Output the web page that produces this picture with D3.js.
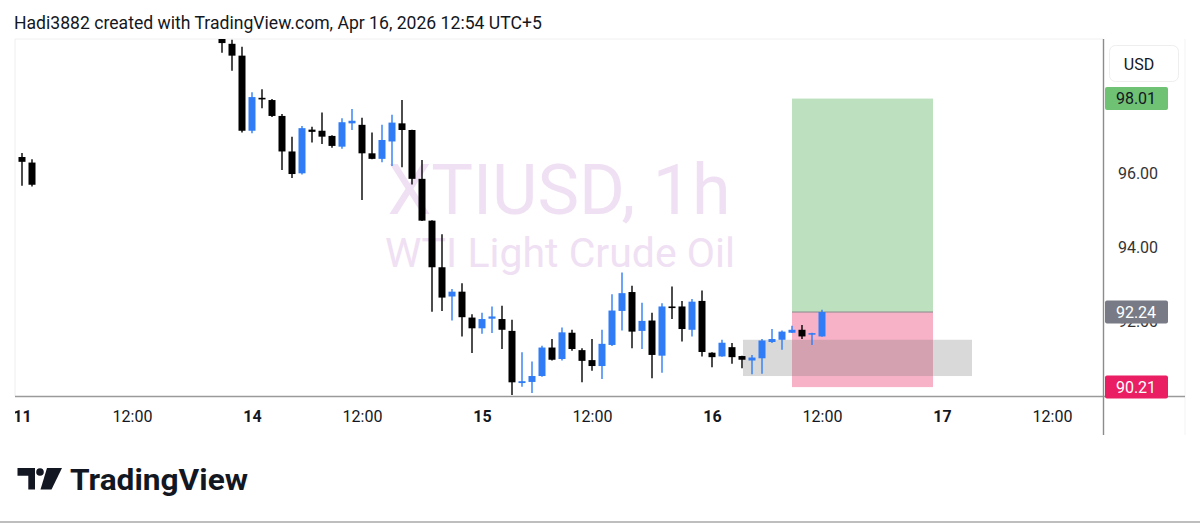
<!DOCTYPE html>
<html>
<head>
<meta charset="utf-8">
<script src="https://cdn.jsdelivr.net/npm/d3@7"></script>
<style>
  html, body { margin: 0; padding: 0; background: #ffffff; }
  svg { display: block; }
  text { font-family: Roboto, "Noto Sans", sans-serif; }
</style>
</head>
<body>
<svg id="chart" width="1200" height="524"></svg>
<script>
// ---------- DATA ----------
const slots  = [0, 1, 20, 21, 22, 23, 24, 25, 26, 27, 28, 29, 30, 31, 32, 33, 34, 35, 36, 37, 38, 39, 40,
                41, 42, 43, 44, 45, 46, 47, 48, 49, 50, 51, 52, 53, 54, 55, 56, 57, 58, 59, 60,
                61, 62, 63, 64, 65, 66, 67, 68, 69, 70, 71, 72, 73, 74, 75, 76, 77, 78, 79, 80];
const opens  = [96.43, 96.28, 99.62, 99.49, 99.17, 97.14, 98.03, 97.97, 97.54, 96.58, 95.99, 97.17, 97.14, 97.00, 96.71, 97.34, 97.30, 96.53, 96.38, 96.85, 97.34, 97.16, 95.84,
                94.71, 93.45, 92.66, 92.79, 92.09, 91.80, 92.06, 92.05, 91.73, 90.32, 90.35, 90.51, 91.28, 90.97, 91.68, 91.21, 90.94, 90.78, 91.35, 92.27,
                92.78, 91.73, 92.01, 91.06, 92.39, 92.39, 91.76, 92.54, 91.14, 91.04, 91.29, 91.05, 90.93, 90.99, 91.43, 91.49, 91.68, 91.76, 91.63, 91.58];
const highs  = [96.54, 96.37, 99.62, 99.60, 99.41, 98.18, 98.26, 98.00, 97.59, 96.98, 97.27, 97.25, 97.63, 97.02, 97.48, 97.73, 97.49, 97.09, 97.30, 97.57, 97.97, 97.17, 96.35,
                94.72, 94.34, 92.86, 93.02, 92.18, 92.22, 92.39, 92.41, 92.03, 91.15, 90.90, 91.33, 91.51, 91.82, 91.76, 91.26, 91.51, 91.76, 92.72, 93.31,
                92.95, 92.49, 92.22, 92.48, 92.93, 92.54, 92.59, 92.82, 91.15, 91.49, 91.40, 91.06, 91.08, 91.51, 91.78, 91.74, 91.87, 91.89, 91.68, 92.30];
const lows   = [95.65, 95.63, 99.25, 98.76, 97.09, 97.07, 97.75, 97.51, 96.08, 95.86, 95.96, 96.82, 96.78, 96.68, 96.65, 97.16, 95.27, 96.37, 96.29, 96.19, 96.15, 95.69, 94.70,
                92.25, 92.27, 92.01, 91.58, 91.13, 91.65, 91.67, 91.24, 90.00, 90.22, 90.05, 90.49, 90.93, 90.93, 91.19, 90.34, 90.65, 90.43, 91.32, 91.74,
                91.26, 91.24, 90.45, 90.60, 92.05, 91.44, 91.58, 91.04, 90.75, 91.03, 90.84, 90.72, 90.56, 90.57, 91.40, 91.22, 91.67, 91.51, 91.35, 91.57];
const closes = [96.30, 95.68, 99.51, 99.17, 97.14, 98.05, 98.00, 97.54, 96.58, 95.97, 97.21, 97.11, 96.98, 96.73, 97.37, 97.41, 96.53, 96.38, 96.89, 97.36, 97.16, 95.84, 94.71,
                93.45, 92.63, 92.79, 92.10, 91.80, 92.05, 92.12, 91.76, 90.34, 90.37, 90.51, 91.28, 90.95, 91.69, 91.24, 90.92, 90.78, 91.38, 92.28, 92.75,
                91.71, 92.00, 91.08, 92.39, 92.36, 91.78, 92.52, 91.16, 91.02, 91.41, 91.02, 90.95, 91.01, 91.47, 91.51, 91.71, 91.76, 91.58, 91.67, 92.24];

const timeTickSlots  = [0, 11, 23, 34, 46, 57, 69, 80, 92, 103];
const timeTickLabels = ["11", "12:00", "14", "12:00", "15", "12:00", "16", "12:00", "17", "12:00"];
const priceTicks = [92, 94, 96, 98];

// long position tool
const positionSlots = [77, 91.1];
const entryPrice  = 92.24;
const targetPrice = 98.01;
const stopPrice   = 90.21;
// grey zone rectangle
const zoneSlots  = [72.1, 95];
const zonePrices = [90.51, 91.49];
const lastPrice = 92.24;

// ---------- LAYOUT ----------
const svg = d3.select("#chart");
const plotLeft = 15, plotRight = 1103, plotTop = 39, plotBottom = 396;

const x = d3.scaleLinear().domain([-0.7, 108.1]).range([plotLeft, plotRight]);
const y = d3.scaleLinear().domain([89.97, 99.62]).range([plotBottom, plotTop]);

const UP = "#2f7cf6", DOWN = "#000000";

// header
svg.append("text").attr("x", 14).attr("y", 29)
  .attr("font-size", 17.6).attr("fill", "#131722")
  .text("Hadi3882 created with TradingView.com, Apr 16, 2026 12:54 UTC+5");

// faint frame
svg.append("line").attr("x1", plotLeft).attr("x2", plotRight).attr("y1", plotTop).attr("y2", plotTop)
  .attr("stroke", "#f0f0f0");
svg.append("line").attr("x1", plotLeft).attr("x2", plotLeft).attr("y1", plotTop).attr("y2", plotBottom)
  .attr("stroke", "#eeeeee");
svg.append("line").attr("x1", 1185).attr("x2", 1185).attr("y1", plotTop).attr("y2", 435)
  .attr("stroke", "#f3f3f3");

svg.append("clipPath").attr("id", "plotclip").append("rect")
  .attr("x", plotLeft).attr("y", plotTop).attr("width", plotRight - plotLeft).attr("height", plotBottom - plotTop);

const plot = svg.append("g").attr("clip-path", "url(#plotclip)");

// watermark
const cx = (plotLeft + plotRight) / 2;
plot.append("text").attr("x", cx).attr("y", 214).attr("text-anchor", "middle")
  .attr("font-size", 70).attr("fill", "#f0e0f3").text("XTIUSD, 1h");
plot.append("text").attr("x", cx + 1).attr("y", 267).attr("text-anchor", "middle")
  .attr("font-size", 41).attr("fill", "#f0e0f3").text("WTI Light Crude Oil");

// position tool
plot.append("rect")
  .attr("x", x(positionSlots[0])).attr("width", x(positionSlots[1]) - x(positionSlots[0]))
  .attr("y", y(targetPrice)).attr("height", y(entryPrice) - y(targetPrice))
  .attr("fill", "#bde1bf");
plot.append("rect")
  .attr("x", x(positionSlots[0])).attr("width", x(positionSlots[1]) - x(positionSlots[0]))
  .attr("y", y(entryPrice)).attr("height", y(stopPrice) - y(entryPrice))
  .attr("fill", "#f8b2c8");
plot.append("line")
  .attr("x1", x(positionSlots[0])).attr("x2", x(positionSlots[1]))
  .attr("y1", y(entryPrice)).attr("y2", y(entryPrice))
  .attr("stroke", "#8a8a8a").attr("stroke-width", 1);

// grey zone
plot.append("rect")
  .attr("x", x(zoneSlots[0])).attr("width", x(zoneSlots[1]) - x(zoneSlots[0]))
  .attr("y", y(zonePrices[1])).attr("height", y(zonePrices[0]) - y(zonePrices[1]))
  .attr("fill", "rgba(120,120,120,0.28)");

// candles
const candles = slots.map((s, i) => ({ s, o: opens[i], h: highs[i], l: lows[i], c: closes[i] }));
const bw = 7;
const cg = plot.append("g");
cg.selectAll("line.wick").data(candles).join("line")
  .attr("x1", d => x(d.s)).attr("x2", d => x(d.s))
  .attr("y1", d => y(d.h)).attr("y2", d => y(d.l))
  .attr("stroke", d => d.c >= d.o ? UP : DOWN).attr("stroke-width", 1.4);
cg.selectAll("rect.body").data(candles).join("rect")
  .attr("x", d => x(d.s) - bw / 2).attr("width", bw)
  .attr("y", d => y(Math.max(d.o, d.c)))
  .attr("height", d => Math.max(1.6, Math.abs(y(d.o) - y(d.c))))
  .attr("fill", d => d.c >= d.o ? UP : DOWN);

// axis lines
svg.append("line").attr("x1", plotLeft).attr("x2", 1185).attr("y1", plotBottom + 0.5).attr("y2", plotBottom + 0.5)
  .attr("stroke", "#9a9a9a").attr("stroke-width", 1.6);
svg.append("line").attr("x1", plotRight + 0.5).attr("x2", plotRight + 0.5).attr("y1", plotTop).attr("y2", 435)
  .attr("stroke", "#8c8c8c").attr("stroke-width", 1.4);

// time axis
svg.append("clipPath").attr("id", "timeclip").append("rect")
  .attr("x", plotLeft).attr("y", plotBottom + 2).attr("width", plotRight - plotLeft).attr("height", 40);
const tAxis = svg.append("g").attr("clip-path", "url(#timeclip)")
  .append("g").attr("transform", `translate(0, ${plotBottom + 15})`)
  .call(d3.axisBottom(x).tickValues(timeTickSlots).tickSize(0)
        .tickFormat((d, i) => timeTickLabels[i]));
tAxis.select(".domain").remove();
tAxis.selectAll("text").attr("font-size", 16).attr("fill", "#131722")
  .attr("font-family", "Roboto, sans-serif")
  .attr("font-weight", (d, i) => timeTickLabels[i].includes(":") ? 400 : 700)
  .attr("dy", "0.5em");

// price axis (the 92.00 tick sits partly behind the last-price label, as in the original)
const pAxis = svg.append("g").attr("transform", `translate(1138, 0)`)
  .call(d3.axisRight(y).tickValues(priceTicks).tickSize(0).tickFormat(d3.format(".2f")));
pAxis.select(".domain").remove();
pAxis.selectAll("text").attr("font-size", 16).attr("fill", "#333")
  .attr("x", 0).attr("text-anchor", "middle").attr("font-family", "Roboto, sans-serif");

// USD box
svg.append("rect").attr("x", 1109.5).attr("y", 45.5).attr("width", 69).attr("height", 36).attr("rx", 6)
  .attr("fill", "#fff").attr("stroke", "#eeeeee");
svg.append("text").attr("x", 1139).attr("y", 64).attr("dy", "0.35em").attr("text-anchor", "middle")
  .attr("font-size", 16).attr("fill", "#131722").text("USD");

// price labels
const labels = [
  { p: targetPrice, bg: "#6fc174", fg: "#131722" },
  { p: lastPrice,   bg: "#787b86", fg: "#ffffff" },
  { p: stopPrice,   bg: "#e91e63", fg: "#ffffff" }
];
const lg = svg.append("g");
lg.selectAll("rect").data(labels).join("rect")
  .attr("x", 1105).attr("width", 63).attr("y", d => y(d.p) - 11.5).attr("height", 23).attr("rx", 2)
  .attr("fill", d => d.bg);
lg.selectAll("text").data(labels).join("text")
  .attr("x", 1136).attr("y", d => y(d.p)).attr("dy", "0.36em").attr("text-anchor", "middle")
  .attr("font-size", 16).attr("fill", d => d.fg).text(d => d.p.toFixed(2));

// logo
const logo = svg.append("g").attr("fill", "#131722");
logo.append("path").attr("d", "M17.5,468 H35 V489.5 H28.3 V475.8 H17.5 Z");
logo.append("circle").attr("cx", 40).attr("cy", 472).attr("r", 3.8);
logo.append("path").attr("d", "M47,468 H62 L51.5,489.5 H40.5 Z");
logo.append("text").attr("x", 70).attr("y", 490).attr("font-size", 29).attr("font-weight", 700)
  .attr("font-family", "Inter, Lato, sans-serif").attr("textLength", 178).attr("lengthAdjust", "spacingAndGlyphs")
  .text("TradingView");

// bottom rule
svg.append("line").attr("x1", 0).attr("x2", 1200).attr("y1", 522).attr("y2", 522)
  .attr("stroke", "#a8a8a8").attr("stroke-width", 1.5);
</script>
</body>
</html>
